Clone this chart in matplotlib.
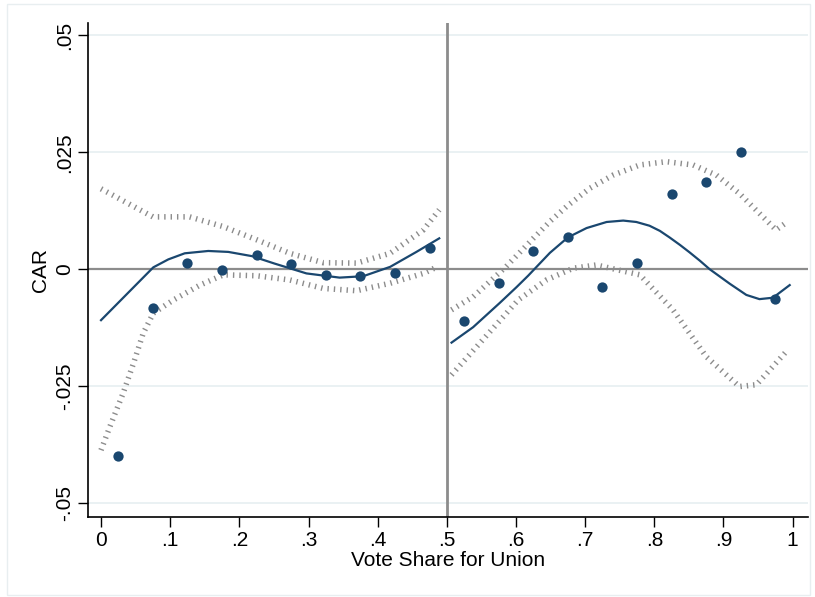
import numpy as np
import matplotlib.pyplot as plt
from matplotlib.patches import Rectangle

plt.rcParams['font.family'] = ['Liberation Sans', 'DejaVu Sans']

# binned means
bin_x = [0.025, 0.075, 0.125, 0.175, 0.225, 0.275, 0.325, 0.375, 0.425, 0.475,
         0.525, 0.575, 0.625, 0.675, 0.725, 0.775, 0.825, 0.875, 0.925, 0.975]
bin_y = [-0.0400, -0.0083, 0.0013, -0.0002, 0.0030, 0.0011, -0.0013, -0.0015, -0.0009, 0.0045,
         -0.0111, -0.0030, 0.0038, 0.0068, -0.0038, 0.0013, 0.0160, 0.0186, 0.0250, -0.0064]

# left fit and CI
fitL_x = [0.0, 0.0756, 0.0973, 0.121, 0.155, 0.184, 0.218, 0.251, 0.297, 0.345, 0.379, 0.418, 0.456, 0.489]
fitL_y = [-0.0109, 0.0004, 0.0021, 0.0034, 0.0039, 0.0037, 0.0028, 0.0012, -0.0009, -0.0018, -0.0015, 0.0005, 0.0037, 0.0066]
hiL_x = [0.0, 0.075, 0.128, 0.177, 0.225, 0.273, 0.321, 0.3695, 0.418, 0.466, 0.489]
hiL_y = [0.0172, 0.0112, 0.0112, 0.0091, 0.0063, 0.0034, 0.0014, 0.0013, 0.0034, 0.0084, 0.0127]
loL_x = [0.0, 0.013, 0.032, 0.047, 0.061, 0.0756, 0.1045, 0.143, 0.177, 0.225, 0.273, 0.321, 0.3695, 0.418, 0.466, 0.4875]
loL_y = [-0.0387, -0.0336, -0.0265, -0.0201, -0.0137, -0.0094, -0.0066, -0.0034, -0.0012, -0.0014, -0.0023, -0.0041, -0.0046, -0.0030, -0.0009, 0.0006]

# right fit and CI
fitR_x = [0.5068, 0.538, 0.5766, 0.601, 0.6175, 0.649, 0.675, 0.702, 0.731, 0.755, 0.774, 0.793,
          0.808, 0.822, 0.837, 0.851, 0.866, 0.880, 0.909, 0.933, 0.952, 0.9715, 0.9957]
fitR_y = [-0.0157, -0.0124, -0.0072, -0.0038, -0.0014, 0.0035, 0.0068, 0.0088, 0.0101, 0.0104, 0.0101, 0.0093,
          0.0082, 0.0068, 0.0052, 0.0036, 0.0018, 0.0000, -0.0031, -0.0055, -0.0064, -0.0061, -0.0034]
hiR_x = [0.5068, 0.538, 0.586, 0.625, 0.649, 0.673, 0.7066, 0.740, 0.779, 0.8175, 0.856, 0.890, 0.923, 0.957, 0.976, 0.993]
hiR_y = [-0.0087, -0.0059, 0.0006, 0.0066, 0.0102, 0.0134, 0.0173, 0.0201, 0.0223, 0.0230, 0.0223, 0.0201, 0.0162, 0.0112, 0.0084, 0.0102]
loR_x = [0.5068, 0.555, 0.603, 0.644, 0.6825, 0.716, 0.779, 0.827, 0.875, 0.923, 0.9476, 0.9715, 0.9932]
loR_y = [-0.0226, -0.0146, -0.0066, -0.0023, 0.0002, 0.0009, -0.0012, -0.0087, -0.0187, -0.0251, -0.0247, -0.0208, -0.0172]

xticks = np.arange(0, 1.01, 0.1)
xlabels = ['0', '.1', '.2', '.3', '.4', '.5', '.6', '.7', '.8', '.9', '1']
yticks = [-0.05, -0.025, 0, 0.025, 0.05]
ylabels = ['-.05', '-.025', '0', '.025', '.05']

navy = '#1a476f'
ci_col = '#8c8c8c'

fig = plt.figure(figsize=(8.15, 5.97), dpi=100)
ax = fig.add_axes([0.108, 0.134, 0.883, 0.827])

for y in yticks:
    ax.axhline(y, color='#e6eff1', lw=1.2, zorder=0)
ax.axhline(0, color='#8c8c8c', lw=1.6, zorder=1)
ax.axvline(0.5, color='#8c8c8c', lw=2, zorder=1)

ci_style = dict(color=ci_col, lw=4, linestyle=(0, (0.25, 0.9)), solid_capstyle='butt', zorder=2)
for xs, ys in [(hiL_x, hiL_y), (loL_x, loL_y), (hiR_x, hiR_y), (loR_x, loR_y)]:
    ax.plot(xs, ys, **ci_style)

ax.plot(fitL_x, fitL_y, color=navy, lw=1.6, zorder=3)
ax.plot(fitR_x, fitR_y, color=navy, lw=1.6, zorder=3)
ax.scatter(bin_x, bin_y, s=55, color=navy, zorder=4, linewidths=0)

ax.set_xlim(-0.0188, 1.0217)
ax.set_ylim(-0.053, 0.0526)
ax.set_xticks(xticks)
ax.set_xticklabels(xlabels, fontsize=15)
ax.set_yticks(yticks)
ax.set_yticklabels(ylabels, fontsize=15, rotation=90, va='center')
ax.tick_params(direction='out', length=7, width=1, color='black', pad=3)
ax.set_xlabel('Vote Share for Union', fontsize=15, labelpad=1)
ax.set_ylabel('CAR', fontsize=15, labelpad=4)
for s in ['top', 'right']:
    ax.spines[s].set_visible(False)
for s in ['left', 'bottom']:
    ax.spines[s].set_linewidth(1.2)

fig.patches.append(Rectangle((0.009, 0.004), 0.985, 0.99, transform=fig.transFigure,
                             fill=False, edgecolor='#e8eef0', lw=1))

fig.savefig('out.png', dpi=100)
